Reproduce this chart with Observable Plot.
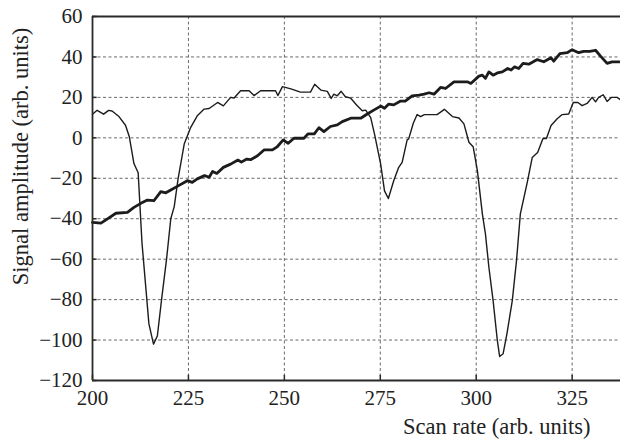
<!DOCTYPE html>
<html>
<head>
<meta charset="utf-8">
<script src="https://cdn.jsdelivr.net/npm/d3@7"></script>
<script src="https://cdn.jsdelivr.net/npm/@observablehq/plot@0.6"></script>
<style>
  html, body { margin: 0; padding: 0; background: #fff; }
  svg { overflow: visible; }
</style>
</head>
<body>
<div id="chart"></div>
<script>
const xTicks = [200, 225, 250, 275, 300, 325];
const yTicks = [-120, -100, -80, -60, -40, -20, 0, 20, 40, 60];
const xLabel = "Scan rate (arb. units)";
const yLabel = "Signal amplitude (arb. units)";

// Thin series (sharp dips)
const thinX = [200, 201.2, 202.9, 204.2, 205.1, 206.8, 208.6, 209.6, 210.8, 211.9, 212.9, 214.7, 215.9, 216.9, 218, 219.3, 220.4, 221.3, 222.3, 223.9, 225.6, 227.3, 229.1, 230.4, 232.6, 234.1, 236, 236.9, 238.6, 240.8, 242.1, 243.8, 247.7, 248.3, 249.5, 251.7, 254.2, 256.8, 257.9, 259.5, 261.2, 262.2, 262.9, 263.8, 264.8, 265.9, 267.3, 269, 270.3, 271.2, 272.5, 273.5, 275.1, 276.1, 277.1, 278.5, 279.8, 280.7, 282, 282.4, 283.6, 284.6, 285.5, 286.5, 289.8, 291.7, 293.8, 295.5, 296.8, 298.1, 299.2, 300.3, 301.6, 302.4, 303.3, 304.4, 305.5, 306.1, 307, 308, 309.4, 310.5, 311.5, 313.3, 314.6, 316, 317.4, 318.3, 319.5, 321.1, 322.4, 324.1, 325.3, 326.5, 327.6, 328.9, 330.2, 331.1, 331.9, 333.1, 334.1, 335.2, 336.7, 337.6];
const thinY = [11.7, 13.6, 11.7, 13.6, 13.3, 10.7, 6.2, 0.5, -12.7, -17.3, -52, -92, -102, -98, -80, -60, -40, -34, -20.3, -3.1, 5.2, 10.9, 14.2, 14.5, 17.5, 15.8, 20, 19.7, 23.3, 23.3, 20.9, 23.3, 23.3, 20.9, 25.3, 24.2, 22.6, 22.6, 26.5, 23.6, 23, 19.5, 21.6, 20.8, 23, 20.3, 19.6, 15.9, 13.4, 13.7, 10, 1.8, -13, -26.2, -30, -21.2, -14.6, -12.1, -1, -0.5, 7.2, 11.5, 10.5, 11.5, 11.5, 14.1, 10.5, 9.8, 6.9, -2.2, -4.4, -16.2, -37.6, -47.5, -64, -80.5, -100.2, -108.1, -106.8, -96.9, -80.5, -60.7, -37.6, -22, -9.7, -7.3, -0.3, -0.3, 6.1, 9.4, 11.5, 11.8, 17.5, 17.5, 15.9, 17, 20, 17.8, 20, 21.3, 18, 20, 20, 18.8];

// Thick series (rising trend)
const thickX = [200, 202.2, 203.9, 206.1, 209.1, 210.8, 212.6, 214.3, 216, 217.8, 219.1, 220.4, 222.1, 224.7, 226, 227.3, 229.2, 230.4, 231.3, 232.4, 234.1, 236, 237.9, 238.8, 240.2, 241.2, 243, 244.7, 246.9, 248.2, 249.7, 251, 252.5, 255.1, 256.2, 257.8, 259, 260.3, 262, 263.8, 265.1, 267.3, 269.9, 271.6, 273.3, 275.1, 276.1, 277.2, 278.5, 280.3, 281.5, 283.3, 285.1, 286.4, 287.7, 289, 290.7, 292, 294.2, 297.7, 298.6, 300.7, 301.6, 302.4, 303.3, 304.4, 305.5, 306.8, 308.2, 309.1, 310, 311.1, 312.2, 313.7, 315.9, 317.6, 319.5, 320.2, 321.8, 323.7, 325, 326.7, 328, 329.6, 331.1, 332.4, 334.1, 335.4, 337.6];
const thickY = [-41.8, -42.2, -40.1, -37.3, -36.9, -34.4, -32.4, -30.8, -31.1, -26.6, -27.2, -25.8, -24, -21.2, -22, -20.3, -18.7, -19.5, -16.6, -17.6, -14.6, -13, -11, -12, -10.5, -10.8, -8.9, -6, -6, -4.3, -1, -2.7, -0.2, -0.2, 2, 2, 5, 3.1, 5.6, 6.4, 8, 9.7, 9.7, 11.8, 13.7, 15.7, 14.6, 16.7, 16.3, 18.2, 18.2, 20.8, 21.1, 21.6, 22.3, 21.6, 24.9, 24.4, 27.7, 27.7, 26.9, 30.5, 31, 29.4, 32.6, 31, 32.1, 32.6, 34.3, 33.5, 35.1, 34.3, 36.8, 36.4, 38.7, 37.6, 39.6, 37.9, 41.6, 42.1, 43.6, 42.1, 42.8, 42.8, 43.3, 40.4, 36.8, 37.6, 37.6];

const thin = thinX.map((x, i) => ({x, y: thinY[i]}));
const thick = thickX.map((x, i) => ({x, y: thickY[i]}));

const serif = "Liberation Serif";
const fmt = d3.format("");
const gridStyle = {stroke: "#6a6a6a", strokeOpacity: 1, strokeWidth: 1, strokeDasharray: "3,2.5"};
const axisColor = "#2a2a2a";

const chart = Plot.plot({
  width: 620,
  height: 443,
  marginLeft: 92,
  marginRight: 0,
  marginTop: 16,
  marginBottom: 63,
  x: {domain: [200, 337.6], axis: null},
  y: {domain: [-120, 60], axis: null},
  style: {fontFamily: serif, fontSize: "20px", color: "#222", background: "#fff", overflow: "visible"},
  marks: [
    Plot.gridX(xTicks.slice(1), gridStyle),
    Plot.gridY(yTicks.slice(1, -1), gridStyle),
    Plot.text(xTicks, {x: d => d, frameAnchor: "bottom", text: d => fmt(d), dy: 18, lineAnchor: "middle", fontSize: 21, fontFamily: serif, fill: "#222"}),
    Plot.text(yTicks, {y: d => d, frameAnchor: "left", text: d => fmt(d), dx: -10, textAnchor: "end", lineAnchor: "middle", fontSize: 21, fontFamily: serif, fill: "#222"}),
    Plot.ruleX(xTicks, {y1: -120, y2: -117.4, stroke: axisColor, strokeWidth: 1.5}),
    Plot.ruleY(yTicks, {x1: 200, x2: 201.2, stroke: axisColor, strokeWidth: 1.5}),
    Plot.line(thin, {x: "x", y: "y", stroke: "#1c1c1c", strokeWidth: 1.4, strokeLinejoin: "round"}),
    Plot.line(thick, {x: "x", y: "y", stroke: "#1c1c1c", strokeWidth: 2.8, strokeLinejoin: "round"}),
    Plot.ruleY([60, -120], {stroke: axisColor, strokeWidth: 1.8}),
    Plot.ruleX([200], {stroke: axisColor, strokeWidth: 1.8}),
    Plot.text([xLabel], {frameAnchor: "bottom-right", textAnchor: "end", dx: -30, dy: 53, fontSize: 22.5, fontFamily: serif, fill: "#222"}),
    Plot.text([yLabel], {frameAnchor: "left", textAnchor: "middle", rotate: -90, dx: -72, dy: -42, fontSize: 22.5, fontFamily: serif, fill: "#222"})
  ]
});
document.getElementById("chart").appendChild(chart);
</script>
</body>
</html>
